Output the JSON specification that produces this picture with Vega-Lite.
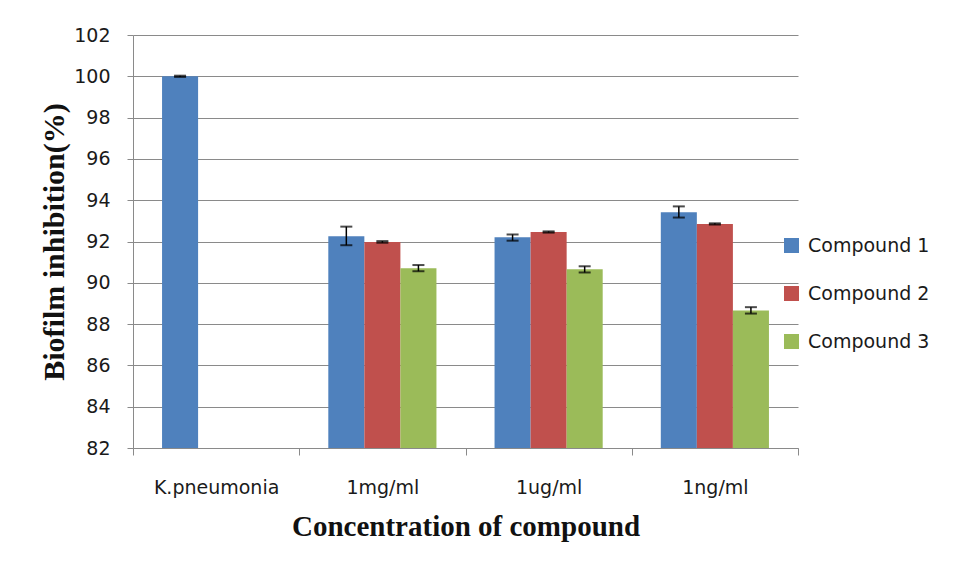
{
  "$schema": "https://vega.github.io/schema/vega-lite/v6.json",
  "autosize": {"type": "none"},
  "width": 665,
  "height": 413,
  "padding": {"left": 133, "top": 35, "right": 165, "bottom": 131},
  "background": "white",
  "config": {"view": {"stroke": null}, "font": "DejaVu Sans"},
  "data": {"values": [
    {"conc": "K.pneumonia", "compound": "Compound 1", "value": 100, "lo": 99.97, "hi": 100.03},
    {"conc": "1mg/ml", "compound": "Compound 1", "value": 92.26, "lo": 91.82, "hi": 92.72},
    {"conc": "1mg/ml", "compound": "Compound 2", "value": 91.98, "lo": 91.94, "hi": 92.02},
    {"conc": "1mg/ml", "compound": "Compound 3", "value": 90.7, "lo": 90.56, "hi": 90.86},
    {"conc": "1ug/ml", "compound": "Compound 1", "value": 92.2, "lo": 92.04, "hi": 92.34},
    {"conc": "1ug/ml", "compound": "Compound 2", "value": 92.46, "lo": 92.43, "hi": 92.49},
    {"conc": "1ug/ml", "compound": "Compound 3", "value": 90.66, "lo": 90.5, "hi": 90.8},
    {"conc": "1ng/ml", "compound": "Compound 1", "value": 93.42, "lo": 93.16, "hi": 93.7},
    {"conc": "1ng/ml", "compound": "Compound 2", "value": 92.85, "lo": 92.82, "hi": 92.88},
    {"conc": "1ng/ml", "compound": "Compound 3", "value": 88.66, "lo": 88.51, "hi": 88.82}
  ]},
  "encoding": {
    "x": {
      "field": "conc", "type": "nominal",
      "sort": ["K.pneumonia", "1mg/ml", "1ug/ml", "1ng/ml"],
      "scale": {"paddingInner": 0, "paddingOuter": 0},
      "axis": {
        "title": "Concentration of compound",
        "titleFont": "Liberation Serif", "titleFontSize": 29, "titleFontWeight": "bold", "titleColor": "#111111",
        "titlePadding": 15,
        "labelAngle": 0, "labelFontSize": 19, "labelColor": "#1a1a1a", "labelPadding": 23,
        "tickBand": "extent", "tickSize": 7, "tickColor": "#8a8a8a", "domainColor": "#8a8a8a",
        "grid": false
      }
    },
    "xOffset": {
      "field": "compound", "type": "nominal",
      "scale": {"domain": ["Compound 1", "Compound 2", "Compound 3"], "paddingInner": 0, "paddingOuter": 0.806}
    }
  },
  "layer": [
    {
      "mark": {"type": "bar", "clip": true},
      "encoding": {
        "y": {
          "field": "value", "type": "quantitative",
          "scale": {"domain": [82, 102], "zero": false, "nice": false},
          "axis": {
            "title": "Biofilm inhibition(%)",
            "titleFont": "Liberation Serif", "titleFontSize": 30, "titleFontWeight": "bold", "titleColor": "#111111",
            "titlePadding": 4,
            "values": [82, 84, 86, 88, 90, 92, 94, 96, 98, 100, 102],
            "labelFontSize": 19, "labelColor": "#1a1a1a", "labelPadding": 17,
            "tickSize": 6, "tickColor": "#8a8a8a", "domainColor": "#8a8a8a",
            "grid": true, "gridColor": "#8a8a8a", "gridWidth": 1
          }
        },
        "color": {
          "field": "compound", "type": "nominal",
          "scale": {"domain": ["Compound 1", "Compound 2", "Compound 3"], "range": ["#4F81BD", "#C0504D", "#9BBB59"]},
          "legend": {
            "title": null, "orient": "none", "legendX": 649, "legendY": 201,
            "symbolType": "square", "symbolSize": 225, "symbolStrokeWidth": 0,
            "labelFontSize": 19, "labelColor": "#1a1a1a", "labelOffset": 7,
            "rowPadding": 28, "padding": 0
          }
        }
      }
    },
    {
      "mark": {"type": "rule", "color": "black", "strokeWidth": 1.5},
      "encoding": {"y": {"field": "lo", "type": "quantitative"}, "y2": {"field": "hi"}}
    },
    {
      "mark": {"type": "tick", "color": "black", "size": 12, "thickness": 2},
      "encoding": {"y": {"field": "lo", "type": "quantitative"}}
    },
    {
      "mark": {"type": "tick", "color": "black", "size": 12, "thickness": 2},
      "encoding": {"y": {"field": "hi", "type": "quantitative"}}
    }
  ]
}
